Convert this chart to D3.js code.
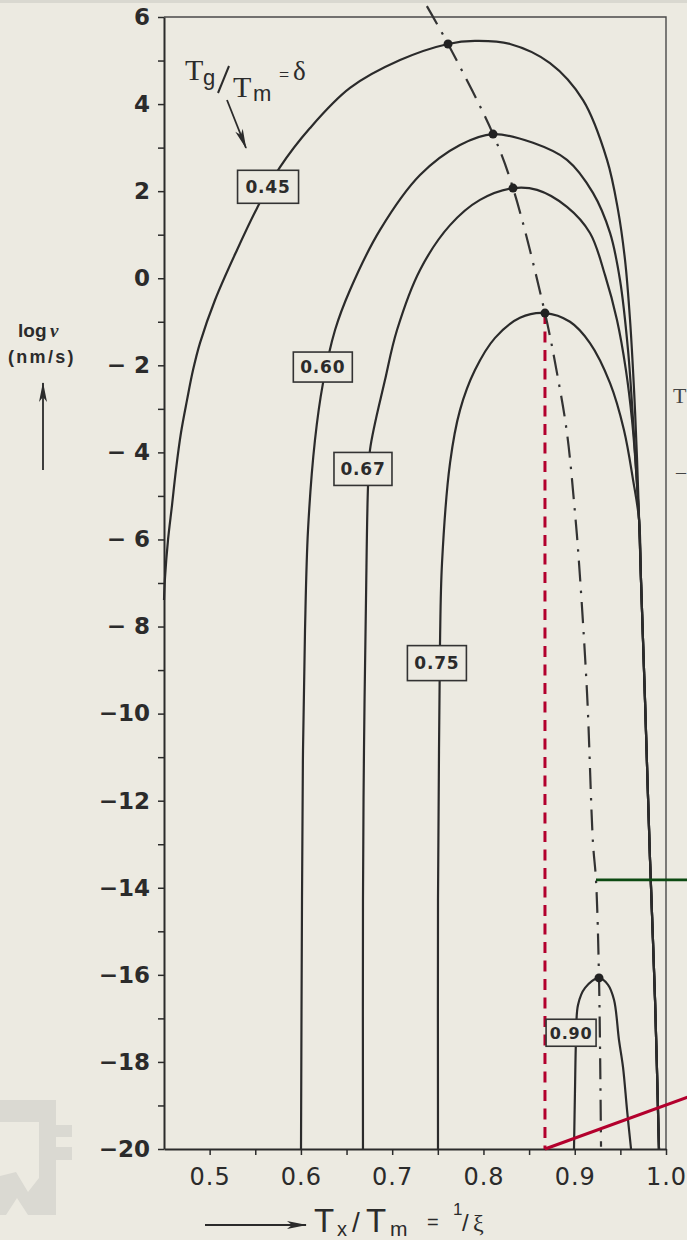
<!DOCTYPE html>
<html>
<head>
<meta charset="utf-8">
<script src="https://cdn.jsdelivr.net/npm/d3@7"></script>
<style>
  html, body { margin: 0; padding: 0; background: #eceae1; }
  svg { display: block; }
</style>
</head>
<body>
<svg id="chart" width="687" height="1240"></svg>
<script>
// Growth-rate curves log v (nm/s) vs reduced temperature Tx/Tm for several Tg/Tm = δ
const deltaLabels = ["0.45", "0.60", "0.67", "0.75", "0.90"];

const curve045 = [[0.4500,-7.39],[0.4511,-6.88],[0.4544,-6.01],[0.4588,-5.21],[0.4631,-4.40],[0.4686,-3.55],
  [0.4752,-2.80],[0.4818,-2.11],[0.4894,-1.49],[0.5059,-0.50],[0.5300,0.65],[0.5519,1.61],[0.5771,2.55],
  [0.6100,3.45],[0.6538,4.37],[0.7086,5.01],[0.7612,5.38],[0.7907,5.45],[0.8291,5.38],[0.8729,4.94],
  [0.9091,4.09],[0.9354,2.72],[0.9474,1.57],[0.9551,0.42],[0.9606,-0.96],[0.9650,-2.57],[0.9683,-4.17],
  [0.9705,-5.55],[0.9726,-6.93],[0.9770,-9.69],[0.9825,-13.36],[0.9880,-16.58],[0.9923,-20]];

const curve060 = [[0.6001,-20],[0.6012,-14.28],[0.6023,-10.84],[0.6045,-8.08],[0.6078,-5.78],[0.6154,-3.72],
  [0.6242,-2.41],[0.6374,-1.19],[0.6538,-0.27],[0.6867,1.11],[0.7305,2.37],[0.7743,3.06],[0.8105,3.31],
  [0.8543,3.11],[0.8915,2.72],[0.9200,1.96],[0.9387,1.04],[0.9496,-0.04],[0.9584,-1.65],[0.9639,-3.26],
  [0.9672,-4.40],[0.9705,-5.55],[0.9726,-6.93],[0.9770,-9.69],[0.9825,-13.36],[0.9880,-16.58],[0.9923,-20]];

const curve067 = [[0.6680,-20],[0.6680,-14.28],[0.6691,-10.84],[0.6713,-7.39],[0.6735,-4.79],[0.6757,-3.94],
  [0.6921,-2.34],[0.7053,-1.19],[0.7305,0.19],[0.7634,1.22],[0.7962,1.80],[0.8324,2.07],[0.8587,2.03],
  [0.8915,1.64],[0.9167,1.04],[0.9332,0.07],[0.9463,-0.96],[0.9561,-2.11],[0.9628,-3.26],[0.9672,-4.40],
  [0.9705,-5.55],[0.9726,-6.93],[0.9770,-9.69],[0.9825,-13.36],[0.9880,-16.58],[0.9923,-20]];

const curve075 = [[0.7502,-20],[0.7502,-14.28],[0.7513,-10.84],[0.7524,-8.38],[0.7546,-6.54],[0.7634,-4.24],
  [0.7743,-3.03],[0.7907,-2.11],[0.8127,-1.37],[0.8400,-0.91],[0.8674,-0.80],[0.8948,-1.00],[0.9167,-1.49],
  [0.9387,-2.41],[0.9540,-3.49],[0.9639,-4.63],[0.9705,-5.55],[0.9726,-6.93],[0.9770,-9.69],[0.9825,-13.36],
  [0.9880,-16.58],[0.9923,-20]];

const curve090 = [[0.8992,-20],[0.9003,-18.64],[0.9014,-17.50],[0.9036,-16.69],[0.9113,-16.30],[0.9266,-16.07],
  [0.9365,-16.23],[0.9431,-16.58],[0.9485,-17.50],[0.9529,-18.12],[0.9573,-19.10],[0.9617,-20]];

// Maxima of each curve (joined by the dash-dot locus)
const maxX = [0.7612, 0.8105, 0.8324, 0.8674, 0.9266];
const maxY = [5.38, 3.31, 2.07, -0.80, -16.07];

// Locus of maxima
const locusX = [0.738, 0.7612, 0.8105, 0.8324, 0.8674, 0.8806, 0.8915, 0.9003, 0.9047, 0.9135, 0.9200, 0.9233, 0.9266, 0.9288];
const locusY = [6.25, 5.38, 3.31, 2.07, -0.80, -2.18, -3.55, -5.39, -6.54, -9.53, -12.97, -13.82, -16.07, -19.95];

// Curve label boxes (center positions)
const labelX = [0.564, 0.624, 0.668, 0.749, 0.896];
const labelY = [2.10, -2.04, -4.38, -8.84, -17.33];

// Axis ticks
const yMajor = [6, 4, 2, 0, -2, -4, -6, -8, -10, -12, -14, -16, -18, -20];
const yTickLabels = ["6", "4", "2", "0", "\u2212 2", "\u2212 4", "\u2212 6", "\u2212 8", "\u221210", "\u221212", "\u221214", "\u221216", "\u221218", "\u221220"];
const yMinor = [5, 3, 1, -1, -3, -5, -7, -9, -11, -13, -15, -17, -19];
const xMajor = [0.5, 0.6, 0.7, 0.8, 0.9, 1.0];
const xTickLabels = ["0.5", "0.6", "0.7", "0.8", "0.9", "1.0"];
const xMinor = [0.55, 0.65, 0.75, 0.85, 0.95];

// Annotations
const markX = 0.8674;            // vertical marker through the 0.75 maximum
const greenY = -13.82;           // horizontal marker level
const greenX = [0.9233, 1.025];
const redLineX = [0.8674, 1.025];
const redLineY = [-20, -18.8];

const curves = [curve045, curve060, curve067, curve075, curve090];

const svg = d3.select("#chart");
const bg = "#eceae1";
const ink = "#2b2b2b";

const x = d3.scaleLinear().domain([0.45, 1.0]).range([164, 666]);
const y = d3.scaleLinear().domain([-20, 6]).range([1149, 17]);

// page background + faint top strip
svg.append("rect").attr("width", 687).attr("height", 1240).attr("fill", bg);
svg.append("rect").attr("width", 687).attr("height", 3).attr("fill", "#d9d8d0");

// faint emblem in the lower-left corner
const emb = svg.append("g").attr("fill", "#dad9d2");
emb.append("rect").attr("x", 0).attr("y", 1100).attr("width", 56).attr("height", 22);
emb.append("rect").attr("x", 39).attr("y", 1100).attr("width", 17).attr("height", 115);
emb.append("rect").attr("x", 56).attr("y", 1125).attr("width", 16).attr("height", 12);
emb.append("rect").attr("x", 56).attr("y", 1147).attr("width", 16).attr("height", 13);
emb.append("path").attr("d", "M0,1176 L16,1172 L28,1192 L39,1178 L39,1215 L28,1215 L17,1198 L6,1215 L0,1215 Z");

const defs = svg.append("defs");
defs.append("marker").attr("id", "head").attr("viewBox", "0 0 10 10")
  .attr("refX", 9).attr("refY", 5).attr("markerWidth", 12).attr("markerHeight", 10)
  .attr("markerUnits", "userSpaceOnUse").attr("orient", "auto")
  .append("path").attr("d", "M0,1 L10,5 L0,9 L2.5,5 Z").attr("fill", ink);
defs.append("marker").attr("id", "headLong").attr("viewBox", "0 0 20 10")
  .attr("refX", 19).attr("refY", 5).attr("markerWidth", 24).attr("markerHeight", 10)
  .attr("markerUnits", "userSpaceOnUse").attr("orient", "auto")
  .append("path").attr("d", "M0,1 L20,5 L0,9 L5,5 Z").attr("fill", ink);

// frame (top and right)
svg.append("path")
  .attr("d", `M${x(0.45)},${y(6)} L${x(1.0)},${y(6)} L${x(1.0)},${y(-20)}`)
  .attr("fill", "none").attr("stroke", "#4a4a4a").attr("stroke-width", 1.4);

// axes
const yAxis = svg.append("g").attr("transform", `translate(${x(0.45)},0)`)
  .call(d3.axisLeft(y).tickValues(yMajor).tickSize(6).tickSizeOuter(0).tickPadding(8)
    .tickFormat((d, i) => yTickLabels[i]));
svg.append("g").attr("transform", `translate(${x(0.45)},0)`)
  .call(d3.axisLeft(y).tickValues(yMinor).tickSize(6).tickSizeOuter(0).tickFormat(""))
  .select(".domain").remove();
yAxis.selectAll("text").attr("font-family", "'DejaVu Sans', sans-serif").attr("font-weight", "bold")
  .attr("font-size", 23).attr("fill", ink);

const xAxis = svg.append("g").attr("transform", `translate(0,${y(-20)})`)
  .call(d3.axisBottom(x).tickValues(xMajor).tickSize(6).tickSizeOuter(0).tickPadding(13)
    .tickFormat((d, i) => xTickLabels[i]));
svg.append("g").attr("transform", `translate(0,${y(-20)})`)
  .call(d3.axisBottom(x).tickValues(xMinor).tickSize(6).tickSizeOuter(0).tickFormat(""))
  .select(".domain").remove();
xAxis.selectAll("text").attr("font-family", "'DejaVu Sans', sans-serif")
  .attr("font-size", 24).attr("letter-spacing", 1).attr("fill", ink);

svg.selectAll(".domain").attr("stroke", ink).attr("stroke-width", 2);
svg.selectAll(".tick line").attr("stroke", ink).attr("stroke-width", 1.5);

// red dashed vertical marker
svg.append("line")
  .attr("x1", x(markX)).attr("x2", x(markX)).attr("y1", y(maxY[3])).attr("y2", y(-20))
  .attr("stroke", "#b3002d").attr("stroke-width", 3).attr("stroke-dasharray", "11,7.5");

// curves
const line = d3.line().x(d => x(d[0])).y(d => y(d[1])).curve(d3.curveCatmullRom.alpha(0.5));
svg.append("g").selectAll("path").data(curves).join("path")
  .attr("d", line).attr("fill", "none").attr("stroke", ink).attr("stroke-width", 2.2)
  .attr("stroke-linejoin", "round");

// locus of maxima
const locus = locusX.map((v, i) => [v, locusY[i]]);
svg.append("path").datum(locus).attr("d", line).attr("fill", "none")
  .attr("stroke", "#333").attr("stroke-width", 2.2).attr("stroke-dasharray", "21,9,2.5,9");

svg.append("g").selectAll("circle").data(maxX).join("circle")
  .attr("cx", d => x(d)).attr("cy", (d, i) => y(maxY[i])).attr("r", 4.5).attr("fill", "#222");

// green horizontal marker
svg.append("line")
  .attr("x1", x(greenX[0])).attr("x2", x(greenX[1])).attr("y1", y(greenY)).attr("y2", y(greenY))
  .attr("stroke", "#0c4a12").attr("stroke-width", 2.8);

// red solid marker
svg.append("line")
  .attr("x1", x(redLineX[0])).attr("x2", x(redLineX[1])).attr("y1", y(redLineY[0])).attr("y2", y(redLineY[1]))
  .attr("stroke", "#b3002d").attr("stroke-width", 3);

// curve labels
const boxW = [61, 59, 58, 59, 50];
const boxH = [33, 30, 33, 35, 27];
const fontS = [17, 17, 17, 17, 16];
const lab = svg.append("g").selectAll("g").data(deltaLabels).join("g")
  .attr("transform", (d, i) => `translate(${x(labelX[i])},${y(labelY[i])})`);
lab.append("rect")
  .attr("x", (d, i) => -boxW[i] / 2).attr("y", (d, i) => -boxH[i] / 2)
  .attr("width", (d, i) => boxW[i]).attr("height", (d, i) => boxH[i])
  .attr("fill", bg).attr("stroke", "#333").attr("stroke-width", 1.6);
lab.append("text").text(d => d)
  .attr("text-anchor", "middle").attr("dy", "0.36em")
  .attr("font-family", "'DejaVu Sans', sans-serif").attr("font-weight", "bold")
  .attr("font-size", (d, i) => fontS[i]).attr("letter-spacing", 0.8).attr("fill", ink);

// legend note: Tg/Tm = δ
const serif = "'Liberation Serif', 'DejaVu Serif', serif";
const note = svg.append("g").attr("fill", ink);
note.append("text").attr("x", 185).attr("y", 80).attr("font-family", serif).attr("font-size", 30).text("T");
note.append("text").attr("x", 203).attr("y", 85).attr("font-family", "'Liberation Sans', sans-serif").attr("font-size", 22).text("g");
note.append("line").attr("x1", 218).attr("y1", 93).attr("x2", 229).attr("y2", 66).attr("stroke", ink).attr("stroke-width", 2);
note.append("text").attr("x", 233).attr("y", 97).attr("font-family", serif).attr("font-size", 30).text("T");
note.append("text").attr("x", 253).attr("y", 101).attr("font-family", "'Liberation Sans', sans-serif").attr("font-size", 22).text("m");
note.append("text").attr("x", 279).attr("y", 81).attr("font-family", serif).attr("font-size", 18).text("=");
note.append("text").attr("x", 293).attr("y", 80).attr("font-family", serif).attr("font-size", 27).text("δ");
svg.append("line").attr("x1", 227).attr("y1", 100).attr("x2", 246).attr("y2", 148)
  .attr("stroke", ink).attr("stroke-width", 1.8).attr("marker-end", "url(#headLong)");

// y-axis title
const sans = "'Liberation Sans', Arial, sans-serif";
svg.append("text").attr("x", 18).attr("y", 337).attr("font-family", sans).attr("font-weight", "bold")
  .attr("font-size", 19).attr("fill", ink).text("log");
svg.append("text").attr("x", 50).attr("y", 337).attr("font-family", serif).attr("font-style", "italic")
  .attr("font-weight", "bold").attr("font-size", 19).attr("fill", ink).text("ν");
svg.append("text").attr("x", 8).attr("y", 363).attr("font-family", sans).attr("font-weight", "bold")
  .attr("font-size", 18).attr("letter-spacing", 2.3).attr("fill", ink).text("(nm/s)");
svg.append("line").attr("x1", 43).attr("y1", 470).attr("x2", 43).attr("y2", 383)
  .attr("stroke", ink).attr("stroke-width", 1.8).attr("marker-end", "url(#headLong)");

// x-axis title: Tx / Tm = 1/ξ
svg.append("line").attr("x1", 205).attr("y1", 1225).attr("x2", 306).attr("y2", 1225)
  .attr("stroke", ink).attr("stroke-width", 1.8).attr("marker-end", "url(#headLong)");
const xt = svg.append("g").attr("fill", ink).attr("font-family", sans);
xt.append("text").attr("x", 314).attr("y", 1232).attr("font-size", 33).text("T");
xt.append("text").attr("x", 337).attr("y", 1236).attr("font-size", 20).text("x");
xt.append("text").attr("x", 352).attr("y", 1232).attr("font-size", 28).text("/");
xt.append("text").attr("x", 366).attr("y", 1232).attr("font-size", 33).text("T");
xt.append("text").attr("x", 390).attr("y", 1236).attr("font-size", 21).text("m");
xt.append("text").attr("x", 427).attr("y", 1229).attr("font-size", 20).text("=");
xt.append("text").attr("x", 453).attr("y", 1215).attr("font-size", 17).text("1");
xt.append("text").attr("x", 462).attr("y", 1231).attr("font-size", 24).text("/");
xt.append("text").attr("x", 473).attr("y", 1231).attr("font-family", serif).attr("font-size", 24).text("ξ");

// glyphs from the neighbouring column at the right edge
svg.append("text").attr("x", 673).attr("y", 403).attr("font-family", serif).attr("font-size", 22)
  .attr("fill", "#444").text("T");
svg.append("text").attr("x", 676).attr("y", 479).attr("font-family", serif).attr("font-size", 20)
  .attr("fill", "#444").text("–");
</script>
</body>
</html>
